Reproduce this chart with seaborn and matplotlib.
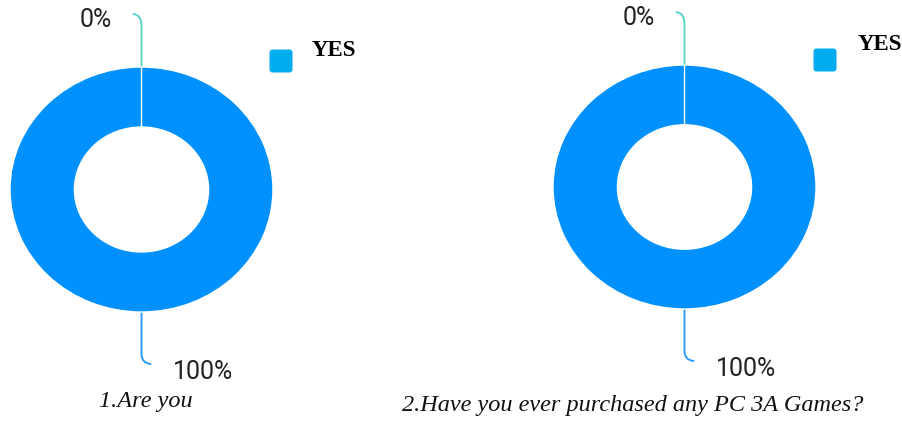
#!/usr/bin/env python3
# -*- coding: utf-8 -*-

## Donut charts for two survey questions
import numpy as np
import matplotlib
matplotlib.use("Agg")
import matplotlib.pyplot as plt
from matplotlib.path import Path
from matplotlib.patches import PathPatch, FancyBboxPatch
import seaborn as sns

# Data
questions = ["1.Are you", "2.Have you ever purchased any PC 3A Games?"]
categories = ["YES", "NO"]
shares = [[100, 0], [100, 0]]
legend_labels = ["YES", "YES"]

# Colours
main_blue = "#0091FF"
zero_teal = "#5BD6C6"
legend_blue = "#00AEEF"
leader_blue = "#2F9BFF"

sns.set_theme(style="white")
plt.rcParams["font.family"] = ["DejaVu Sans"]

W, H = 903, 423
fig = plt.figure(figsize=(W / 100, H / 100), dpi=100)
fig.patch.set_facecolor("white")

# Overlay axes in pixel coords for labels / leaders
ov = fig.add_axes([0, 0, 1, 1])
ov.set_xlim(0, W)
ov.set_ylim(H, 0)
ov.axis("off")

# donut geometry (pixels): centre x, centre y, rx, ry
donuts = [(141.5, 189.5, 131.5, 122.5), (684.5, 187.0, 131.5, 122.0)]
legend_pos = [(269, 49, 312, 51), (813, 48, 858, 44)]
title_pos = [(146, 402), (633, 405)]


def leader(x0, y0, x1, y1, color, up=True):
    # vertical line from donut edge, with a small curl at the end
    if up:
        verts = [(x0, y0), (x0, y1 + 12), (x0, y1 + 1), (x0 - 8, y1)]
    else:
        verts = [(x0, y0), (x0, y1 - 10), (x0, y1 - 1), (x0 + 9, y1)]
    codes = [Path.MOVETO, Path.LINETO, Path.CURVE3, Path.CURVE3]
    ov.add_patch(PathPatch(Path(verts, codes), fill=False, edgecolor=color,
                           lw=1.4, capstyle="round"))


for i, (cx, cy, rx, ry) in enumerate(donuts):
    ax = fig.add_axes([(cx - rx) / W, 1 - (cy + ry) / H, 2 * rx / W, 2 * ry / H])
    ax.pie(shares[i], colors=[main_blue, zero_teal], startangle=90,
           counterclock=False,
           wedgeprops=dict(width=0.49, edgecolor="white", linewidth=1.0))
    ax.set_aspect("auto")
    ax.set_xlim(-1, 1)
    ax.set_ylim(-1, 1)
    ax.axis("off")

    top = cy - ry
    bot = cy + ry
    # 0% leader and label
    leader(cx, top, cx, top - 53, zero_teal, up=True)
    ov.text(cx - 46, top - 47, f"{shares[i][1]}%", fontsize=18,
            family=["Roboto", "DejaVu Sans"], color="#222222",
            ha="center", va="center")
    # 100% leader and label
    leader(cx, bot, cx, bot + 52, leader_blue, up=False)
    ov.text(cx + 62, bot + 60, f"{shares[i][0]}%", fontsize=18,
            family=["Roboto", "DejaVu Sans"], color="#222222",
            ha="center", va="center")

    # legend
    lx, ly, tx, ty = legend_pos[i]
    ov.add_patch(FancyBboxPatch((lx + 2, ly + 2), 20, 20,
                                boxstyle="round,pad=1.5,rounding_size=3",
                                facecolor=legend_blue, edgecolor="none"))
    ov.text(tx, ty, legend_labels[i], fontsize=16.5, fontweight="bold",
            family=["Liberation Serif"], color="black", ha="left", va="center")

    # question title
    ov.text(title_pos[i][0], title_pos[i][1], questions[i], fontsize=17.5,
            style="italic", family=["Liberation Serif"], color="#111111",
            ha="center", va="center")

fig.savefig("out.png", dpi=100, facecolor="white")
